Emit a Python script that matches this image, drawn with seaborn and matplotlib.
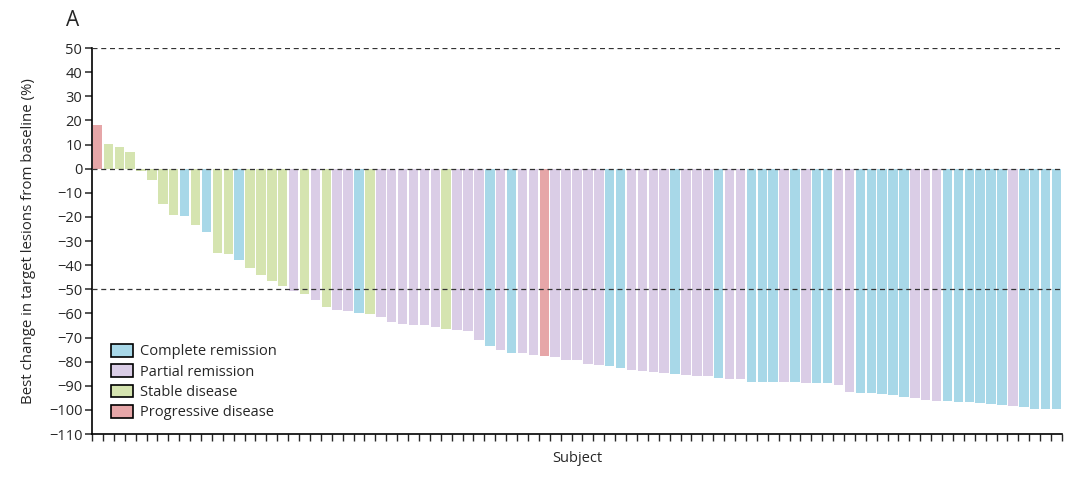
import numpy as np
import pandas as pd
import matplotlib
matplotlib.use('Agg')
import matplotlib.pyplot as plt
import seaborn as sns
from matplotlib.patches import Patch

# best change in target lesions (%), one value per subject, sorted
change = [18, 10.2, 8.8, 7.0, -1, -4.9, -14.5, -19.1, -19.5, -23.4,
          -26.2, -35.0, -35.5, -38.0, -41.0, -44.0, -46.6, -48.5, -50.6, -52.0,
          -54.4, -57.3, -58.7, -59.0, -59.8, -60.1, -61.7, -63.4, -64.2, -64.7,
          -64.9, -65.5, -66.5, -67.0, -67.3, -70.9, -73.4, -75.1, -76.6, -76.6,
          -77.2, -77.7, -78.0, -79.2, -79.2, -81.0, -81.2, -81.9, -82.6, -83.4,
          -84.0, -84.5, -84.8, -85.3, -85.6, -85.8, -86.0, -86.9, -87.2, -87.4,
          -88.3, -88.4, -88.4, -88.4, -88.5, -88.8, -88.8, -89.0, -89.6, -92.6,
          -93.0, -93.1, -93.3, -93.7, -94.5, -95.1, -96.0, -96.5, -96.5, -96.6,
          -96.7, -97.3, -97.6, -97.8, -98.5, -99.0, -99.5, -99.5, -99.5]

# CR = complete remission, PR = partial, SD = stable, PD = progressive
response = ['PD', 'SD', 'SD', 'SD', 'SD', 'SD', 'SD', 'SD', 'CR', 'SD',
            'CR', 'SD', 'SD', 'CR', 'SD', 'SD', 'SD', 'SD', 'PR', 'SD',
            'PR', 'SD', 'PR', 'PR', 'CR', 'SD', 'PR', 'PR', 'PR', 'PR',
            'PR', 'PR', 'SD', 'PR', 'PR', 'PR', 'CR', 'PR', 'CR', 'PR',
            'PR', 'PD', 'PR', 'PR', 'PR', 'PR', 'PR', 'CR', 'CR', 'PR',
            'PR', 'PR', 'PR', 'CR', 'PR', 'PR', 'PR', 'CR', 'PR', 'PR',
            'CR', 'CR', 'CR', 'PR', 'CR', 'PR', 'CR', 'CR', 'PR', 'PR',
            'CR', 'CR', 'CR', 'CR', 'CR', 'PR', 'PR', 'PR', 'CR', 'CR',
            'CR', 'CR', 'CR', 'CR', 'PR', 'CR', 'CR', 'CR', 'CR']

labels = {'CR': 'Complete remission', 'PR': 'Partial remission',
          'SD': 'Stable disease', 'PD': 'Progressive disease'}
colors = {'CR': '#a8d8e8', 'PR': '#dacde6', 'SD': '#d5e4b0', 'PD': '#e6a6a8'}

df = pd.DataFrame({'subject': range(len(change)), 'change': change,
                   'response': response})

sns.set_style('white')
plt.rcParams['font.family'] = ['Open Sans', 'DejaVu Sans']

fig = plt.figure(figsize=(10.8, 4.84), dpi=100)
ax = fig.add_axes([0.0852, 0.1033, 0.8981, 0.7975])

sns.barplot(data=df, x='subject', y='change', hue='response', palette=colors,
            dodge=False, width=0.87, legend=False, saturation=1, ax=ax,
            order=list(range(len(change))), linewidth=0, edgecolor='none')

for y in (50, 0, -50):
    ax.axhline(y, color='#333333', lw=0.9, ls=(0, (4, 3)), zorder=5)

ax.set_ylim(-110, 50)
ax.set_xlim(-0.5, len(change) - 0.5)
ax.set_yticks(np.arange(-110, 51, 10))
ax.set_xticks(np.arange(-0.5, len(change), 1))
ax.set_xticklabels([])
ax.tick_params(axis='y', direction='out', length=5, width=1.1, labelsize=10.5,
               left=True, pad=2)
ax.tick_params(axis='x', direction='out', length=5, width=1, bottom=True)

for s in ('top', 'right'):
    ax.spines[s].set_visible(False)
for s in ('left', 'bottom'):
    ax.spines[s].set_color('black')
    ax.spines[s].set_linewidth(1.2)

ax.set_ylabel('Best change in target lesions from baseline (%)', fontsize=10.8)
ax.yaxis.set_label_coords(-0.058, 0.5)
ax.set_xlabel('Subject', fontsize=10.5, labelpad=4)

handles = [Patch(facecolor=colors[k], edgecolor='black', lw=1.2, label=labels[k])
           for k in ('CR', 'PR', 'SD', 'PD')]
ax.legend(handles=handles, loc='lower left', bbox_to_anchor=(0.014, 0.02),
          frameon=False, fontsize=10.5, handlelength=1.45, handleheight=0.95,
          handletextpad=0.5, labelspacing=0.35, borderaxespad=0)

fig.text(0.061, 0.958, 'A', fontsize=15, va='center', ha='left')

fig.savefig('out.png', dpi=100)
